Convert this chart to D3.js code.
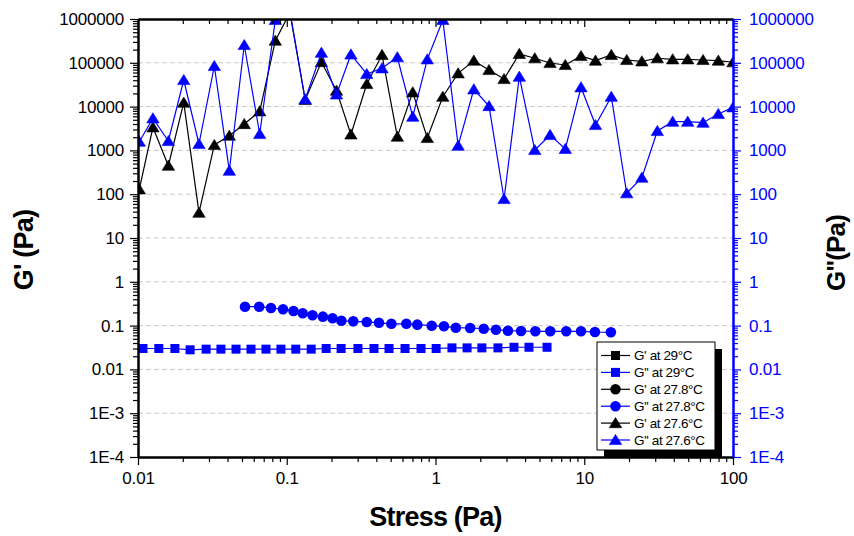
<!DOCTYPE html>
<html>
<head>
<meta charset="utf-8">
<script src="https://cdn.jsdelivr.net/npm/d3@7/dist/d3.min.js"></script>
<style>
  body { margin: 0; background: #fff; }
  svg text { font-family: "Liberation Sans", Arial, sans-serif; }
</style>
</head>
<body>
<div id="chart"></div>
<script>

// ---- data ----
// G' at 29°C and G' at 27.8°C have no visible points, only legend entries
var stress_g1_29 = [];
var g1_29 = [];

var stress_g2_29 = [0.0108, 0.0138, 0.0177, 0.0224, 0.0287, 0.0361, 0.0456, 0.0575, 0.0725, 0.0914,
                    0.115, 0.146, 0.184, 0.232, 0.301, 0.386, 0.487, 0.624, 0.799, 1.01,
                    1.29, 1.63, 2.05, 2.63, 3.37, 4.25, 5.62];
var g2_29 = [0.030, 0.030, 0.030, 0.028, 0.029, 0.029, 0.029, 0.029, 0.029, 0.029,
             0.029, 0.029, 0.030, 0.030, 0.030, 0.030, 0.030, 0.030, 0.030, 0.030,
             0.031, 0.031, 0.031, 0.031, 0.032, 0.032, 0.032];

var stress_g1_278 = [];
var g1_278 = [];

var stress_g2_278 = [0.0524, 0.0653, 0.0783, 0.0944, 0.111, 0.128, 0.149, 0.175, 0.203, 0.233,
                     0.280, 0.345, 0.417, 0.505, 0.637, 0.755, 0.943, 1.14, 1.37, 1.71,
                     2.11, 2.55, 3.07, 3.76, 4.69, 5.91, 7.57, 9.51, 11.8, 15.1];
var g2_278 = [0.270, 0.270, 0.252, 0.236, 0.216, 0.191, 0.172, 0.160, 0.147, 0.129,
              0.125, 0.121, 0.116, 0.110, 0.110, 0.105, 0.0995, 0.0964, 0.0895, 0.0881,
              0.0849, 0.0805, 0.0765, 0.0753, 0.0741, 0.0741, 0.0741, 0.0741, 0.0714, 0.0703];

var stress_276 = [0.0102, 0.0126, 0.0160, 0.0203, 0.0257, 0.0326, 0.0411, 0.0518, 0.0658, 0.0838,
                  0.105, 0.133, 0.171, 0.216, 0.270, 0.345, 0.437, 0.554, 0.703, 0.881,
                  1.12, 1.42, 1.81, 2.29, 2.89, 3.66, 4.65, 5.89, 7.46, 9.51,
                  11.9, 15.2, 19.3, 24.4, 31.0, 39.3, 49.6, 62.9, 79.7, 100];
var g1_276 = [129, 3370, 448, 12300, 37.8, 1330, 2170, 4000, 7810, 320000,
              1400000, 14200, 104000, 23100, 2310, 32800, 151000, 2060, 21200, 1920,
              16800, 57600, 112000, 68500, 42700, 160000, 127000, 98900, 89100, 143000,
              112000, 151000, 116000, 108000, 127000, 120000, 120000, 116000, 112000, 103000];
var g2_276 = [1580, 5410, 1640, 40500, 1400, 84500, 344, 255000, 2370, 950000,
              1500000, 14700, 170000, 18900, 155000, 55500, 74900, 134000, 5880, 120000,
              950000, 1280, 24800, 10300, 77.7, 48200, 1020, 2250, 1080, 27600,
              3800, 16800, 105, 238, 2770, 4520, 4520, 4290, 6780, 9640];

var y_ticks = [1e-4, 1e-3, 0.01, 0.1, 1, 10, 100, 1000, 10000, 100000, 1000000];
var y_labels = ['1E-4', '1E-3', '0.01', '0.1', '1', '10', '100', '1000', '10000', '100000', '1000000'];
var x_ticks = [0.01, 0.1, 1, 10, 100];
var x_labels = ['0.01', '0.1', '1', '10', '100'];

var series = [
  {name: "G' at 29\u00b0C",    x: stress_g1_29,  y: g1_29,  color: '#000000', symbol: 'square'},
  {name: "G'' at 29\u00b0C",   x: stress_g2_29,  y: g2_29,  color: '#0000ff', symbol: 'square'},
  {name: "G' at 27.8\u00b0C",  x: stress_g1_278, y: g1_278, color: '#000000', symbol: 'circle'},
  {name: "G'' at 27.8\u00b0C", x: stress_g2_278, y: g2_278, color: '#0000ff', symbol: 'circle'},
  {name: "G' at 27.6\u00b0C",  x: stress_276,    y: g1_276, color: '#000000', symbol: 'triangle'},
  {name: "G'' at 27.6\u00b0C", x: stress_276,    y: g2_276, color: '#0000ff', symbol: 'triangle'}
];

function draw_chart(){

  // ---- layout ----
  var W = 854, H = 536;
  var p_left = 138, p_right = 733, p_top = 19, p_bottom = 457;

  var x = d3.scaleLog().domain([0.01, 100]).range([p_left, p_right]);
  var y = d3.scaleLog().domain([1e-4, 1e6]).range([p_bottom, p_top]);

  // minor tick positions 2..9 within each decade
  function minors(lo, hi) {
    var out = [];
    for (var k = lo; k < hi; k++) {
      for (var m = 2; m <= 9; m++) out.push(m * Math.pow(10, k));
    }
    return out;
  }

  var svg = d3.select('#chart').append('svg')
    .attr('width', W)
    .attr('height', H);

  svg.append('defs').append('clipPath')
    .attr('id', 'plotclip')
    .append('rect')
    .attr('x', p_left).attr('y', p_top)
    .attr('width', p_right - p_left).attr('height', p_bottom - p_top);

  // dashed horizontal grid
  svg.append('g').selectAll('line')
    .data(y_ticks.slice(1, -1))
    .enter().append('line')
    .attr('x1', p_left).attr('x2', p_right)
    .attr('y1', function(d){ return y(d); })
    .attr('y2', function(d){ return y(d); })
    .style('stroke', '#c8c8c8')
    .style('stroke-width', 1)
    .style('stroke-dasharray', '5,3');

  // ---- data ----
  var plot = svg.append('g').attr('clip-path', 'url(#plotclip)');

  var valueline = d3.line()
    .x(function(d){ return x(d[0]); })
    .y(function(d){ return y(d[1]); });

  function marker(sel, kind, color) {
    if (kind == 'square') {
      sel.append('rect').attr('x', -4.5).attr('y', -4.5).attr('width', 9).attr('height', 9)
        .style('fill', color);
    } else if (kind == 'circle') {
      sel.append('circle').attr('r', 5.3).style('fill', color);
    } else {
      sel.append('path').attr('d', 'M-6.2,4.6L6.2,4.6L0,-5.6Z')
        .style('fill', color).style('stroke', color).style('stroke-width', 0.6);
    }
  }

  series.forEach(function(s){
    var pts = s.x.map(function(v, i){ return [v, s.y[i]]; });
    if (pts.length == 0) return;

    plot.append('path')
      .datum(pts)
      .attr('d', valueline)
      .style('fill', 'none')
      .style('stroke', s.color)
      .style('stroke-width', 1.2);

    plot.selectAll(null)
      .data(pts)
      .enter().append('g')
      .attr('transform', function(d){ return 'translate(' + x(d[0]) + ',' + y(d[1]) + ')'; })
      .each(function(){ marker(d3.select(this), s.symbol, s.color); });
  });

  // ---- axes ----
  function styleAxis(g, color, width) {
    g.select('.domain').style('stroke', color).style('stroke-width', width);
    g.selectAll('.tick line').style('stroke', color).style('stroke-width', 1.2);
    g.selectAll('text')
      .style('fill', color)
      .style('font-size', '17px')
      .style('letter-spacing', '-0.2px');
  }

  // bottom
  svg.append('g').attr('transform', 'translate(0,' + p_bottom + ')')
    .call(d3.axisBottom(x).tickValues(minors(-2, 2)).tickFormat('').tickSize(5).tickSizeOuter(0))
    .call(styleAxis, '#000', 2);
  svg.append('g').attr('transform', 'translate(0,' + p_bottom + ')')
    .call(d3.axisBottom(x).tickValues(x_ticks).tickFormat(function(d, i){ return x_labels[i]; })
          .tickSize(8).tickPadding(7).tickSizeOuter(0))
    .call(styleAxis, '#000', 2);

  // top (ticks pointing in)
  svg.append('g').attr('transform', 'translate(0,' + p_top + ')')
    .call(d3.axisBottom(x).tickValues(minors(-2, 2)).tickFormat('').tickSize(5).tickSizeOuter(0))
    .call(styleAxis, '#000', 2);
  svg.append('g').attr('transform', 'translate(0,' + p_top + ')')
    .call(d3.axisBottom(x).tickValues(x_ticks).tickFormat('').tickSize(8).tickSizeOuter(0))
    .call(styleAxis, '#000', 2);

  // left
  svg.append('g').attr('transform', 'translate(' + p_left + ',0)')
    .call(d3.axisLeft(y).tickValues(minors(-4, 6)).tickFormat('').tickSize(5).tickSizeOuter(0))
    .call(styleAxis, '#000', 2);
  svg.append('g').attr('transform', 'translate(' + p_left + ',0)')
    .call(d3.axisLeft(y).tickValues(y_ticks).tickFormat(function(d, i){ return y_labels[i]; })
          .tickSize(8).tickPadding(6).tickSizeOuter(0))
    .call(styleAxis, '#000', 2);

  // right, blue
  svg.append('g').attr('transform', 'translate(' + p_right + ',0)')
    .call(d3.axisRight(y).tickValues(minors(-4, 6)).tickFormat('').tickSize(5).tickSizeOuter(0))
    .call(styleAxis, '#0000ff', 2);
  svg.append('g').attr('transform', 'translate(' + p_right + ',0)')
    .call(d3.axisRight(y).tickValues(y_ticks).tickFormat(function(d, i){ return y_labels[i]; })
          .tickSize(8).tickPadding(8).tickSizeOuter(0))
    .call(styleAxis, '#0000ff', 2);

  // ---- titles ----
  svg.append('text')
    .attr('x', (p_left + p_right) / 2).attr('y', 526)
    .attr('text-anchor', 'middle')
    .style('font-size', '27px').style('font-weight', 'bold').style('letter-spacing', '-0.8px')
    .text('Stress (Pa)');

  svg.append('text')
    .attr('transform', 'translate(33,250) rotate(-90)')
    .attr('text-anchor', 'middle')
    .style('font-size', '27px').style('font-weight', 'bold').style('letter-spacing', '-0.8px')
    .text("G' (Pa)");

  svg.append('text')
    .attr('transform', 'translate(845,253) rotate(-90)')
    .attr('text-anchor', 'middle')
    .style('font-size', '26px').style('font-weight', 'bold').style('letter-spacing', '-0.8px')
    .text("G''(Pa)");

  // ---- legend ----
  var lg_x = 597, lg_y = 342, lg_w = 118, lg_h = 108, row_h = 16.9;

  svg.append('rect')
    .attr('x', lg_x + 7).attr('y', lg_y + 7)
    .attr('width', lg_w).attr('height', lg_h)
    .style('fill', '#000');
  svg.append('rect')
    .attr('x', lg_x).attr('y', lg_y)
    .attr('width', lg_w).attr('height', lg_h)
    .style('fill', '#fff').style('stroke', '#000').style('stroke-width', 1);

  var rows = svg.append('g').selectAll('g')
    .data(series)
    .enter().append('g')
    .attr('transform', function(d, i){ return 'translate(' + (lg_x + 4) + ',' + (lg_y + 13.5 + i * row_h) + ')'; });

  rows.append('line')
    .attr('x1', 0).attr('x2', 29)
    .style('stroke', function(d){ return d.color; })
    .style('stroke-width', 1.2);

  rows.each(function(d){
    var m = d3.select(this).append('g').attr('transform', 'translate(14.5,0)');
    marker(m, d.symbol, d.color);
  });

  rows.append('text')
    .attr('x', 33).attr('y', 0).attr('dy', '0.36em')
    .style('font-size', '13.5px')
    .style('letter-spacing', '-0.4px')
    .text(function(d){ return d.name; });
}

draw_chart();

</script>
</body>
</html>
